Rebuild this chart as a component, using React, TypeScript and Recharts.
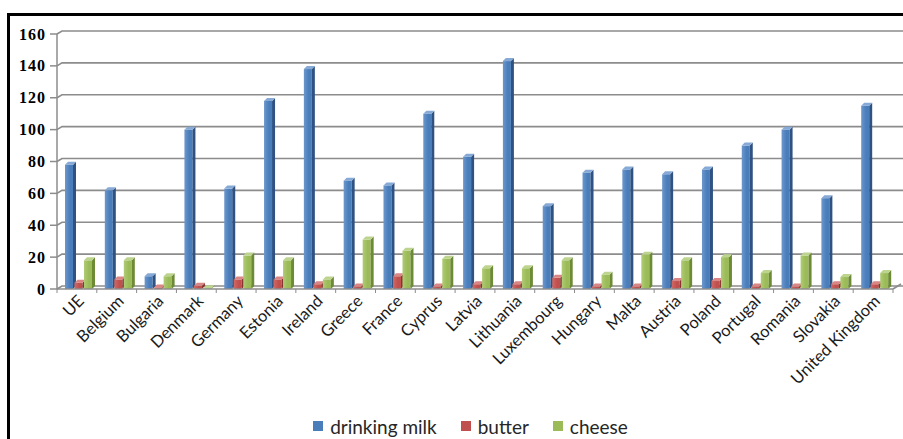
import React from 'react';
import { BarChart, Bar, XAxis, YAxis, CartesianGrid, Legend } from 'recharts';

const countries = [
  'UE', 'Belgium', 'Bulgaria', 'Denmark', 'Germany', 'Estonia', 'Ireland', 'Greece',
  'France', 'Cyprus', 'Latvia', 'Lithuania', 'Luxembourg', 'Hungary', 'Malta', 'Austria',
  'Poland', 'Portugal', 'Romania', 'Slovakia', 'United Kingdom',
];
const drinkingMilk = [78, 62, 8, 100, 63, 118, 138, 68, 65, 110, 83, 143, 52, 73, 75, 72, 75, 90, 100, 57, 115];
const butter = [4, 6, 1, 2, 6, 6, 3, 1.5, 8, 1.5, 3, 3, 7, 1.5, 1.5, 5, 5, 1.5, 1.5, 3, 3];
const cheese = [18, 18, 8, 0.5, 21, 18, 6, 31, 24, 19, 13, 13, 18, 9, 21.5, 18, 20, 10, 21, 7.5, 10];
const yTicks = [0, 20, 40, 60, 80, 100, 120, 140, 160];

const data = countries.map((name, i) => ({
  name,
  milk: drinkingMilk[i],
  butter: butter[i],
  cheese: cheese[i],
}));

const series = [
  { key: 'milk', label: 'drinking milk', front: '#4a7ebb', light: '#6d97cc', side: '#2f5283', top: '#86a9d6' },
  { key: 'butter', label: 'butter', front: '#c0504d', light: '#d06a67', side: '#8a3432', top: '#d98684' },
  { key: 'cheese', label: 'cheese', front: '#9bbb59', light: '#b0cb76', side: '#6d8a35', top: '#bcd48e' },
];

const GRID = '#8c8c8c';
const DEPTH = 3;
const SANS = "Lato, 'Liberation Sans', Arial, sans-serif";

// front face + right side + top, shifted a little to sit on the floor
const Box3D = (props: any) => {
  const { x, y, width, height, s } = props;
  if (x == null || y == null) return null;
  const d = DEPTH;
  const bx = x + 2;
  const gid = `grad-${s.key}`;
  return (
    <g>
      <rect x={bx} y={y} width={width} height={Math.max(height, 0.5)} fill={`url(#${gid})`} />
      <polygon
        points={`${bx + width},${y} ${bx + width + d},${y - d} ${bx + width + d},${y + height - d} ${bx + width},${y + height}`}
        fill={s.side}
      />
      <polygon
        points={`${bx},${y} ${bx + d},${y - d} ${bx + width + d},${y - d} ${bx + width},${y}`}
        fill={s.top}
      />
    </g>
  );
};

const XTick = (props: any) => {
  const { x, y, payload, index } = props;
  const off = payload.offset || 0;
  const axisY = y - 8;
  return (
    <g>
      <line x1={x - off} y1={axisY} x2={x - off} y2={axisY + 4} stroke={GRID} />
      {index === countries.length - 1 && (
        <>
          <line x1={x + off} y1={axisY} x2={x + off} y2={axisY + 4} stroke={GRID} />
          <line x1={x + off} y1={axisY} x2={x + off + 8} y2={axisY - 5} stroke={GRID} strokeWidth={1.5} />
        </>
      )}
      <g transform={`translate(${x + 4},${y + 1}) rotate(-45)`}>
        <text textAnchor="end" dy="0.35em" fontFamily={SANS} fontSize={16.5} fill="#1a1a1a">
          {payload.value}
        </text>
      </g>
    </g>
  );
};

const YTick = (props: any) => {
  const { x, y, payload } = props;
  return (
    <text
      x={x}
      y={y}
      dy="0.35em"
      textAnchor="end"
      fontFamily="'Liberation Serif', 'Times New Roman', serif"
      fontWeight="bold"
      fontSize={16}
      letterSpacing={1}
      fill="#000"
    >
      {payload.value}
    </text>
  );
};

// back-wall gridline with a small slant where it meets the side wall
const GridLine = (p: any) => (
  <polyline
    key={p.key}
    points={`${p.x1},${p.y1} ${p.x1 + 5},${p.y1 - 3} ${p.x2 + 20},${p.y1 - 3}`}
    fill="none"
    stroke={GRID}
    strokeWidth={1.6}
  />
);

const LegendBox = () => (
  <div
    style={{
      display: 'flex',
      justifyContent: 'center',
      gap: 24,
      paddingLeft: 28,
      height: 24,
      alignItems: 'center',
      fontFamily: SANS,
      fontSize: 19,
      color: '#262626',
    }}
  >
    {series.map((s) => (
      <span key={s.key} style={{ display: 'flex', alignItems: 'center' }}>
        <span style={{ width: 10, height: 10, background: s.front, marginRight: 7, display: 'inline-block' }} />
        {s.label}
      </span>
    ))}
  </div>
);

export default function App() {
  return (
    <div
      style={{
        position: 'absolute',
        left: 7,
        top: 13,
        width: 896,
        height: 426,
        borderTop: '3px solid #000',
        borderLeft: '3px solid #000',
        boxSizing: 'border-box',
        background: '#fff',
        overflow: 'hidden',
      }}
    >
      <BarChart
        width={893}
        height={423}
        data={data}
        margin={{ top: 18, right: 10, bottom: 0, left: 0 }}
        barSize={8}
        barGap={1.5}
        style={{ overflow: 'visible' }}
      >
        <defs>
          {series.map((s) => (
            <linearGradient key={s.key} id={`grad-${s.key}`} x1="0" y1="0" x2="1" y2="0">
              <stop offset="0%" stopColor={s.light} />
              <stop offset="60%" stopColor={s.front} />
              <stop offset="100%" stopColor={s.front} />
            </linearGradient>
          ))}
        </defs>
        <CartesianGrid vertical={false} horizontal={GridLine} />
        <XAxis
          dataKey="name"
          interval={0}
          height={126}
          tickSize={4}
          tickMargin={4}
          tickLine={false}
          axisLine={{ stroke: GRID, strokeWidth: 1.5 }}
          tick={<XTick />}
        />
        <YAxis
          width={47}
          domain={[0, 160]}
          ticks={yTicks}
          interval={0}
          tickSize={7}
          tickMargin={4}
          axisLine={{ stroke: GRID, strokeWidth: 1.5 }}
          tickLine={{ stroke: GRID, strokeWidth: 1.5 }}
          tick={<YTick />}
        />
        <Legend content={<LegendBox />} wrapperStyle={{ top: 398, left: 0, width: 893 }} />
        {series.map((s) => (
          <Bar
            key={s.key}
            dataKey={s.key}
            name={s.label}
            fill={s.front}
            isAnimationActive={false}
            shape={(p: any) => <Box3D {...p} s={s} />}
          />
        ))}
      </BarChart>
    </div>
  );
}
